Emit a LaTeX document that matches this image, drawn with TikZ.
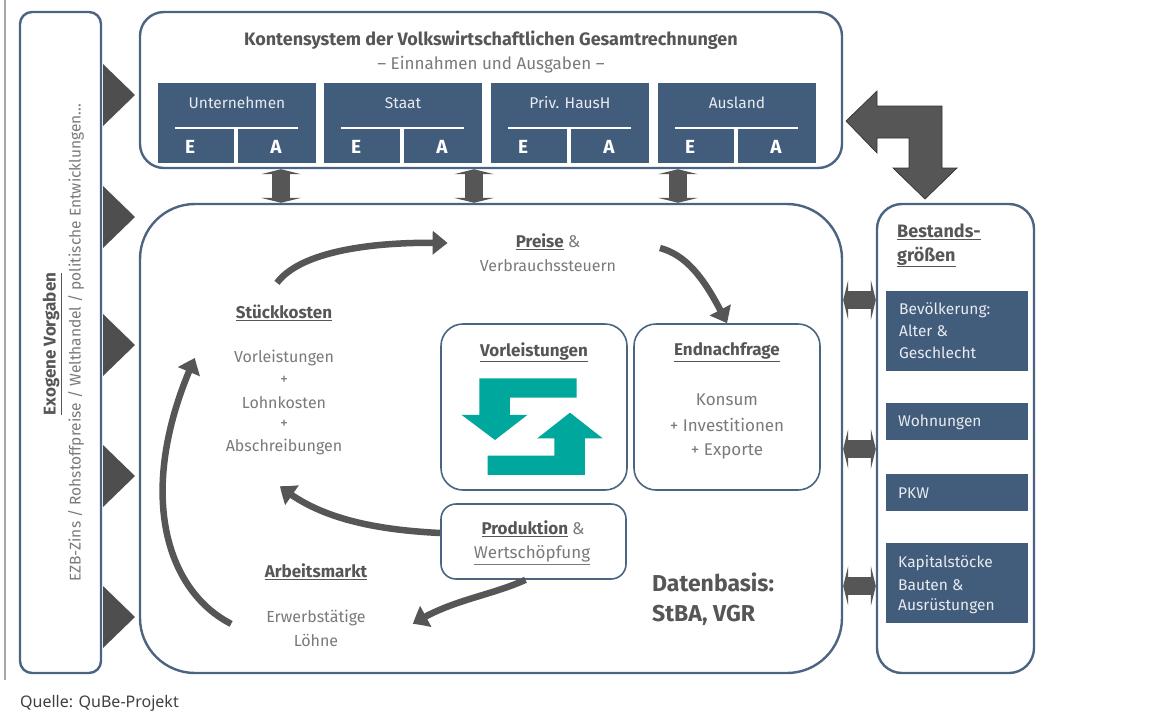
\documentclass[tikz,border=0pt]{standalone}
\usepackage{fontspec}
\setmainfont{Fira Sans}
\newfontfamily\quellefont{Noto Sans}
\usetikzlibrary{arrows.meta,bending}
\definecolor{blueb}{HTML}{4A6482}
\definecolor{bluef}{HTML}{425C7B}
\definecolor{darkg}{HTML}{565656}
\definecolor{midg}{HTML}{7A7A7A}
\definecolor{teal1}{HTML}{00A79D}
\newcommand{\fs}[1]{\fontsize{#1}{#1}\selectfont}
\tikzset{
 x=1pt,y=-1pt,
 rbox/.style={draw=blueb,line width=2.4pt,fill=white,inner sep=0pt},
 fbox/.style={fill=bluef,inner sep=0pt},
 head/.style={text=darkg,font=\fs{17}\bfseries,inner sep=0pt},
 body/.style={text=midg,font=\fs{16},inner sep=0pt},
 inbox/.style={text=white!88!bluef,font=\fs{15.5},inner sep=0pt},
 curvearrow/.style={draw=darkg,line width=6.5pt,-{Triangle[width=23pt,length=15pt,bend]}},
 dblarrow/.style={draw=darkg,line width=18pt,{Triangle[width=40pt,length=5pt]}-{Triangle[width=40pt,length=5pt]}},
 wline/.style={draw=white,line width=1.6pt},
}
\begin{document}
\begin{tikzpicture}
\path[use as bounding box,fill=white] (0,0) rectangle (1161,713);
\draw[gray!70,line width=1.6pt] (5,0) -- (5,680);

% main frames
\node[rbox,rounded corners=12pt,minimum width=81pt,minimum height=661pt] (exo) at (60.5,342.5) {};
\node[rbox,rounded corners=24pt,minimum width=702pt,minimum height=156pt] (konten) at (491,90) {};
\node[rbox,rounded corners=55pt,minimum width=702pt,minimum height=469pt] (big) at (491,438.5) {};
\node[rbox,rounded corners=25pt,minimum width=157pt,minimum height=469pt] (bestand) at (955.5,438.5) {};

% exogenous triangles
\foreach \yy in {95,217,345,476,617}
  \fill[darkg!90!black] (103,\yy-31) -- (135,\yy) -- (103,\yy+31) -- cycle;

% exogenous text
\node[head,rotate=90] (exotitle) at (52,344) {\underline{Exogene Vorgaben}};
\node[body,rotate=90,font=\fs{15.5}] (exotext) at (76,343) {EZB-Zins / Rohstoffpreise / Welthandel / politische Entwicklungen...};

% accounts
\node[text=darkg,font=\fs{18}\bfseries,inner sep=0pt] (ktitle) at (491,40) {Kontensystem der Volkswirtschaftlichen Gesamtrechnungen};
\node[text=midg,font=\fs{17},inner sep=0pt] (ksub) at (491,65) {– Einnahmen und Ausgaben –};
\foreach \nm/\cx/\lab in {u/237/Unternehmen,s/403/Staat,p/570/Priv. HausH,a/737/Ausland}{
  \node[fbox,minimum width=158.5pt,minimum height=80pt] (konto\nm) at (\cx,123) {};
  \node[inbox] (label\nm) at (\cx,103) {\lab};
  \draw[wline] (\cx-62,128) -- (\cx+61,128);
  \draw[draw=white,line width=4pt] (\cx-1,129) -- (\cx-1,163);
  \node[text=white,font=\fs{19}\bfseries,inner sep=0pt] (e\nm) at (\cx-47,147) {E};
  \node[text=white,font=\fs{19}\bfseries,inner sep=0pt] (a\nm) at (\cx+39,147) {A};
}

% double arrows
\foreach \dx in {-210,-17,187}
  \draw[dblarrow] ([xshift=\dx pt]konten.south) -- ([xshift=\dx pt]big.north);
\foreach \dy in {138.5,-10.5,-147.5}
  \draw[dblarrow] ([yshift=\dy pt]big.east) -- ([yshift=\dy pt]bestand.west);

% big bent arrow
\draw[fill=darkg,draw=black!80,line width=0.7pt]
 (846,121) -- (877,91) -- (877,106) -- (942,106) -- (942,168) -- (957,168) -- (925,199)
 -- (893,168) -- (909,168) -- (909,138) -- (877,138) -- (877,153) -- cycle;

% stock boxes
\node[head,font=\fs{18}\bfseries,anchor=west] (best1) at (897,232) {\underline{Bestands-}};
\node[head,font=\fs{18}\bfseries,anchor=west] (best2) at (897,257) {\underline{größen}};
\node[fbox,minimum width=142pt,minimum height=80pt] (bev) at (957,331) {};
\node[inbox,anchor=west] (bev1) at (899,310) {Bevölkerung:};
\node[inbox,anchor=west] (bev2) at (899,331) {Alter \&};
\node[inbox,anchor=west] (bev3) at (899,353) {Geschlecht};
\node[fbox,minimum width=142pt,minimum height=37pt] (woh) at (957,421.5) {};
\node[inbox,anchor=west] (woh1) at (898,422) {Wohnungen};
\node[fbox,minimum width=142pt,minimum height=37pt] (pkw) at (957,492.5) {};
\node[inbox,anchor=west] (pkw1) at (898,493) {PKW};
\node[fbox,minimum width=142pt,minimum height=80pt] (kap) at (957,583) {};
\node[inbox,anchor=west] (kap1) at (898,563) {Kapitalstöcke};
\node[inbox,anchor=west] (kap2) at (898,585) {Bauten \&};
\node[inbox,anchor=west] (kap3) at (898,606) {Ausrüstungen};

% inner boxes
\node[rbox,line width=1.6pt,rounded corners=22pt,minimum width=186pt,minimum height=166pt] (vor) at (534,407) {};
\node[rbox,line width=1.6pt,rounded corners=22pt,minimum width=186pt,minimum height=166pt] (end) at (727,407) {};
\node[rbox,line width=1.6pt,rounded corners=15pt,minimum width=185pt,minimum height=75pt] (prod) at (533.5,541.5) {};

\node[head] (vortitle) at (534,352) {\underline{Vorleistungen}};
\node[head] (endtitle) at (727,352) {\underline{Endnachfrage}};
\node[body,font=\fs{17}] (end1) at (727,400) {Konsum};
\node[body,font=\fs{17}] (end2) at (727,425) {+ Investitionen};
\node[body,font=\fs{17}] (end3) at (727,451) {+ Exporte};

% teal arrows
\begin{scope}[shift={(430,220)},x=0.3333pt,y=-0.3333pt]
\fill[teal1] (148,475) -- (440,475) -- (440,533) -- (240,533) -- (240,585) -- (292,585) -- (195,660) -- (95,585) -- (148,585) -- cycle;
\fill[teal1] (173,707) -- (373,707) -- (373,655) -- (322,655) -- (420,578) -- (518,655) -- (465,655) -- (465,765) -- (173,765) -- cycle;
\end{scope}

% flow labels
\node[head] (preise) at (548,242) {\underline{Preise} \textmd{\textcolor{midg}{\&}}};
\node[body] (steuer) at (548,266) {Verbrauchssteuern};
\node[head] (stueck) at (284,313) {\underline{Stückkosten}};
\node[body] (st1) at (284,358) {Vorleistungen};
\node[body] (st2) at (284,380) {+};
\node[body] (st3) at (284,403) {Lohnkosten};
\node[body] (st4) at (284,424) {+};
\node[body] (st5) at (284,447) {Abschreibungen};
\node[head] (prod1) at (533,529) {\underline{Produktion} \textmd{\textcolor{midg}{\&}}};
\node[body,font=\fs{17}] (prod2) at (532,555) {\underline{Wertschöpfung}};
\node[head] (arbeit) at (316,572) {\underline{Arbeitsmarkt}};
\node[body] (arb1) at (316,618) {Erwerbstätige};
\node[body] (arb2) at (316,640) {Löhne};
\node[text=darkg,font=\fs{23}\bfseries,inner sep=0pt,anchor=west] (daten1) at (652,582) {Datenbasis:};
\node[text=darkg,font=\fs{23}\bfseries,inner sep=0pt,anchor=west] (daten2) at (652,615) {StBA, VGR};
\node[text=black!75,font=\quellefont\fs{16},inner sep=0pt,anchor=west] (quelle) at (20,703) {Quelle: QuBe-Projekt};

% flow arrows
\draw[curvearrow] ([xshift=-7pt,yshift=22pt]stueck.north) .. controls (300,252) and (370,241) .. ([xshift=-68pt]preise.west |- 0,243);
\draw[curvearrow] (660,248) .. controls (690,256) and (708,285) .. (end.north);
\draw[curvearrow] (prod.west |- 0,533) .. controls (380,530) and (320,520) .. ([xshift=-4pt,yshift=-31pt]st5.south);
\draw[curvearrow] ([xshift=-8pt]prod.south) .. controls (490,596) and (450,600) .. ([xshift=47pt,yshift=-14pt]arb1.north east);
\draw[curvearrow] ([xshift=-35pt,yshift=-14pt]arb1.north west) .. controls (165,590) and (135,490) .. ([xshift=-39pt]st1.west);
\end{tikzpicture}
\end{document}
